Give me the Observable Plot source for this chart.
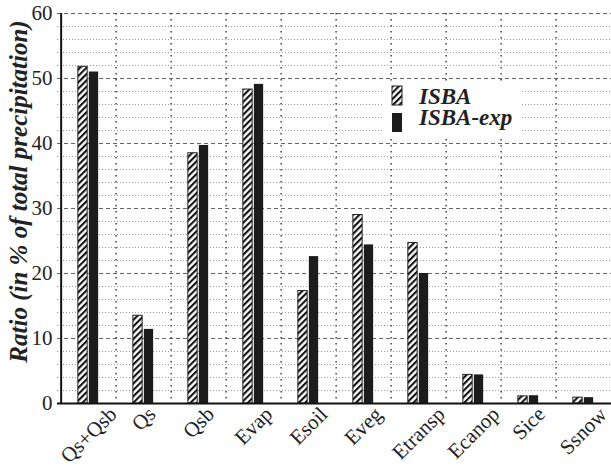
<!DOCTYPE html>
<html><head><meta charset="utf-8">
<script src="https://cdn.jsdelivr.net/npm/d3@7"></script>
<script src="https://cdn.jsdelivr.net/npm/@observablehq/plot@0.6"></script>
<style>body{margin:0;background:#fff} #chart{position:relative;width:611px;height:468px;overflow:hidden}</style>
</head><body><div id="chart"></div>
<script>
const categories = ["Qs+Qsb","Qs","Qsb","Evap","Esoil","Eveg","Etransp","Ecanop","Sice","Ssnow"];
const isba    = [51.8, 13.5, 38.5, 48.3, 17.3, 29.0, 24.7, 4.4, 1.1, 0.9];
const isbaExp = [51.0, 11.4, 39.7, 49.1, 22.6, 24.4, 20.0, 4.4, 1.2, 0.9];
const seriesNames = ["ISBA", "ISBA-exp"];
const yTicks = [0, 10, 20, 30, 40, 50, 60];
const yTitle = "Ratio (in % of total precipitation)";

const rows = categories.map((c, i) => ({cat: c, isba: isba[i], exp: isbaExp[i]}));
const X0 = 57, X1 = 614, BW = (X1 - X0) / categories.length;
const minor = d3.range(0, 61, 2).filter(v => v % 10 !== 0);
const major = yTicks.filter(v => v > 0);

const plot = Plot.plot({
  width: 611, height: 468, marginLeft: 57, marginRight: 0, marginTop: 13, marginBottom: 65,
  style: {fontFamily: "'Liberation Serif', serif", fontSize: "20px", color: "#222", background: "#fff"},
  x: {domain: categories, range: [X0, X1], padding: 0},
  y: {domain: [0, 60], range: [403, 13]},
  marks: [
    Plot.ruleY(minor, {stroke: "#999", strokeDasharray: "1,2", strokeWidth: 1}),
    Plot.ruleY(major, {stroke: "#666", strokeDasharray: "4,3", strokeWidth: 1}),
    Plot.ruleX(categories.slice(1), {x: d => d, dx: -BW / 2, stroke: "#444", strokeDasharray: "1.5,4.5", strokeWidth: 1.5}),
    Plot.barY(rows, {x: "cat", y: "isba", fill: "url(#hatch)", stroke: "#222", strokeWidth: 1, insetLeft: BW / 2 - 11, insetRight: BW / 2 + 1}),
    Plot.barY(rows, {x: "cat", y: "exp", fill: "#1c1c1c", insetLeft: BW / 2, insetRight: BW / 2 - 10}),
    Plot.ruleY([0], {stroke: "#111", strokeWidth: 2}),
    Plot.ruleX([categories[0]], {x: d => d, dx: -BW / 2, stroke: "#111", strokeWidth: 2}),
    Plot.axisY({ticks: yTicks, tickSize: 0, tickPadding: 5, label: null, fontSize: 21}),
    Plot.axisX({tickSize: 0, tickRotate: -45, tickPadding: 8, label: null, fontSize: 21}),
    Plot.text([yTitle], {text: d => d, frameAnchor: "left", textAnchor: "middle", rotate: -90, dx: -39, dy: -17, fontSize: 25, fontWeight: "bold", fontStyle: "italic", fill: "#222"})
  ]
});

const svg = d3.select(plot);
const defs = svg.insert("defs", ":first-child");
const pat = defs.append("pattern").attr("id", "hatch").attr("patternUnits", "userSpaceOnUse")
  .attr("width", 4.5).attr("height", 4.5).attr("patternTransform", "rotate(45)");
pat.append("rect").attr("width", 4.5).attr("height", 4.5).attr("fill", "#fff");
pat.append("line").attr("x1", 1).attr("y1", 0).attr("x2", 1).attr("y2", 4.5).attr("stroke", "#111").attr("stroke-width", 2.2);

const lg = svg.append("g").attr("text-anchor", "start");
lg.append("rect").attr("x", 383).attr("y", 82).attr("width", 139).attr("height", 56).attr("fill", "#fff");
seriesNames.forEach((name, i) => {
  lg.append("rect").attr("x", 392).attr("y", 86 + i * 27).attr("width", 10).attr("height", 19)
    .attr("fill", i === 0 ? "url(#hatch)" : "#1c1c1c").attr("stroke", "#222").attr("stroke-width", i === 0 ? 1 : 0);
  lg.append("text").attr("x", 419).attr("y", 104 + i * 21).text(name)
    .attr("text-anchor", "start")
    .attr("font-family", "'Liberation Serif', serif").attr("font-size", 23)
    .attr("font-weight", "bold").attr("font-style", "italic").attr("fill", "#222");
});

document.getElementById("chart").appendChild(plot);

// center each rotated tick label under its band, top just below the axis
const xs = plot.scale("x");
const sr = plot.getBoundingClientRect();
svg.selectAll('g[aria-label="x-axis tick label"] text').each(function(d, i) {
  const r = this.getBoundingClientRect();
  const cx = xs.apply(categories[i]) + xs.bandwidth / 2;
  const ddx = cx - ((r.left + r.right) / 2 - sr.left);
  const ddy = 402 - (r.top - sr.top);
  this.setAttribute("transform", `translate(${ddx},${ddy}) ` + (this.getAttribute("transform") || ""));
});
</script>
</body></html>
